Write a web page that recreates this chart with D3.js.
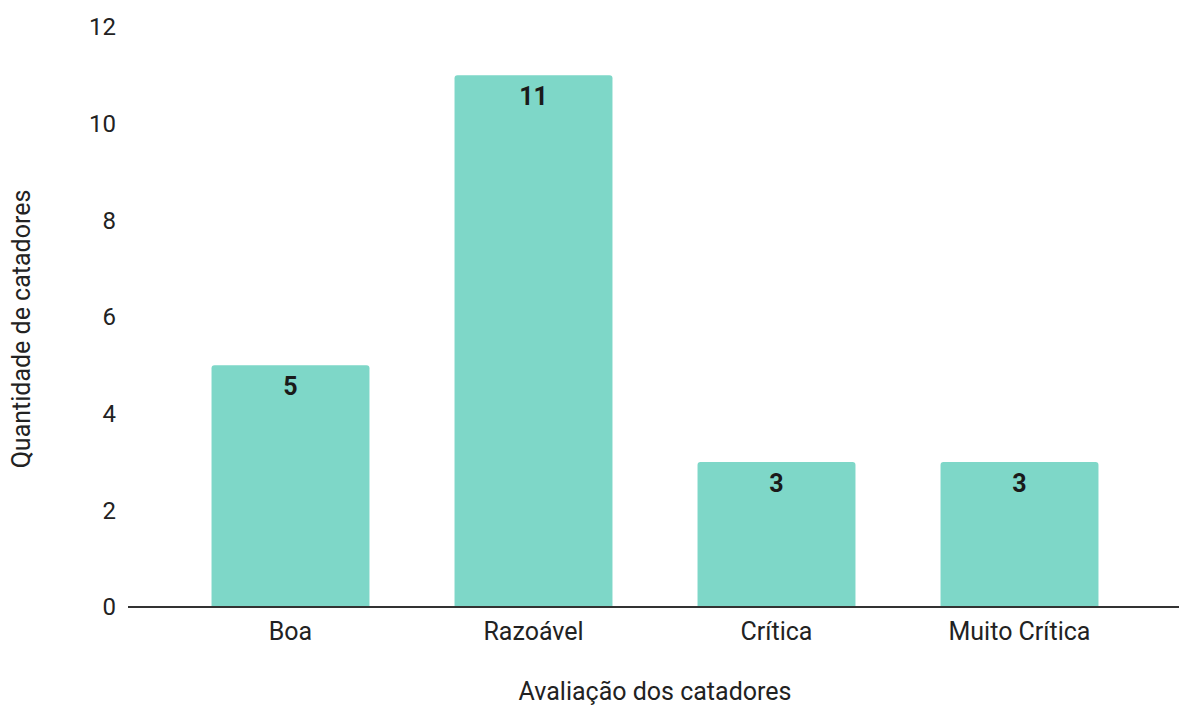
<!DOCTYPE html>
<html>
<head>
<meta charset="utf-8">
<script src="https://cdn.jsdelivr.net/npm/d3@7"></script>
<style>
  html, body { margin: 0; padding: 0; background: #fff; }
  svg { display: block; font-family: Roboto, "Noto Sans", Arial, sans-serif; }
</style>
</head>
<body>
<svg id="chart" width="1179" height="708"></svg>
<script>
// Avaliação dos catadores
const categories = ["Boa", "Razoável", "Crítica", "Muito Crítica"];
const values = [5, 11, 3, 3];
const yTicks = [0, 2, 4, 6, 8, 10, 12];

const svg = d3.select("#chart");
const barColor = "#7ed7c8";
const fs = 25;

const x = d3.scaleBand()
  .domain(categories)
  .range([169, 1141])
  .paddingInner(0.35)
  .paddingOuter(0.175);

const y = d3.scaleLinear()
  .domain([0, 12])
  .range([607, 27]);

// y tick labels (no tick lines, no gridlines)
const yAxis = svg.append("g")
  .attr("transform", "translate(116,0)")
  .call(d3.axisLeft(y).tickValues(yTicks).tickSize(0).tickPadding(0).tickFormat(d3.format("d")));
yAxis.select(".domain").remove();
yAxis.selectAll("text")
  .attr("font-size", fs - 1)
  .attr("fill", "#222")
  .attr("font-family", "Roboto, sans-serif");

// bars with slightly rounded top corners
const r = 3;
svg.append("g").selectAll("path")
  .data(categories.map((c, i) => ({ c, v: values[i] })))
  .join("path")
  .attr("fill", barColor)
  .attr("d", d => {
    const x0 = x(d.c), w = x.bandwidth(), y0 = y(d.v), y1 = y(0);
    return `M${x0},${y1}V${y0 + r}Q${x0},${y0} ${x0 + r},${y0}H${x0 + w - r}Q${x0 + w},${y0} ${x0 + w},${y0 + r}V${y1}Z`;
  });

// value labels inside bars
svg.append("g").selectAll("text")
  .data(categories.map((c, i) => ({ c, v: values[i] })))
  .join("text")
  .attr("x", d => x(d.c) + x.bandwidth() / 2)
  .attr("y", d => y(d.v) + 30)
  .attr("text-anchor", "middle")
  .attr("font-size", fs)
  .attr("font-weight", "bold")
  .attr("fill", "#1a1a1a")
  .text(d => d.v);

// baseline
svg.append("line")
  .attr("x1", 128).attr("x2", 1179)
  .attr("y1", y(0)).attr("y2", y(0))
  .attr("stroke", "#333").attr("stroke-width", 2);

// x category labels
const xAxis = svg.append("g")
  .attr("transform", `translate(0,${y(0)})`)
  .call(d3.axisBottom(x).tickSize(0).tickPadding(15));
xAxis.select(".domain").remove();
xAxis.selectAll("text")
  .attr("font-size", fs)
  .attr("fill", "#222")
  .attr("font-family", "Roboto, sans-serif");

// axis titles
svg.append("text")
  .attr("x", 655).attr("y", 700)
  .attr("text-anchor", "middle")
  .attr("font-size", fs)
  .attr("fill", "#222")
  .text("Avaliação dos catadores");

svg.append("text")
  .attr("transform", "translate(30,329) rotate(-90)")
  .attr("text-anchor", "middle")
  .attr("font-size", fs)
  .attr("fill", "#222")
  .text("Quantidade de catadores");
</script>
</body>
</html>
